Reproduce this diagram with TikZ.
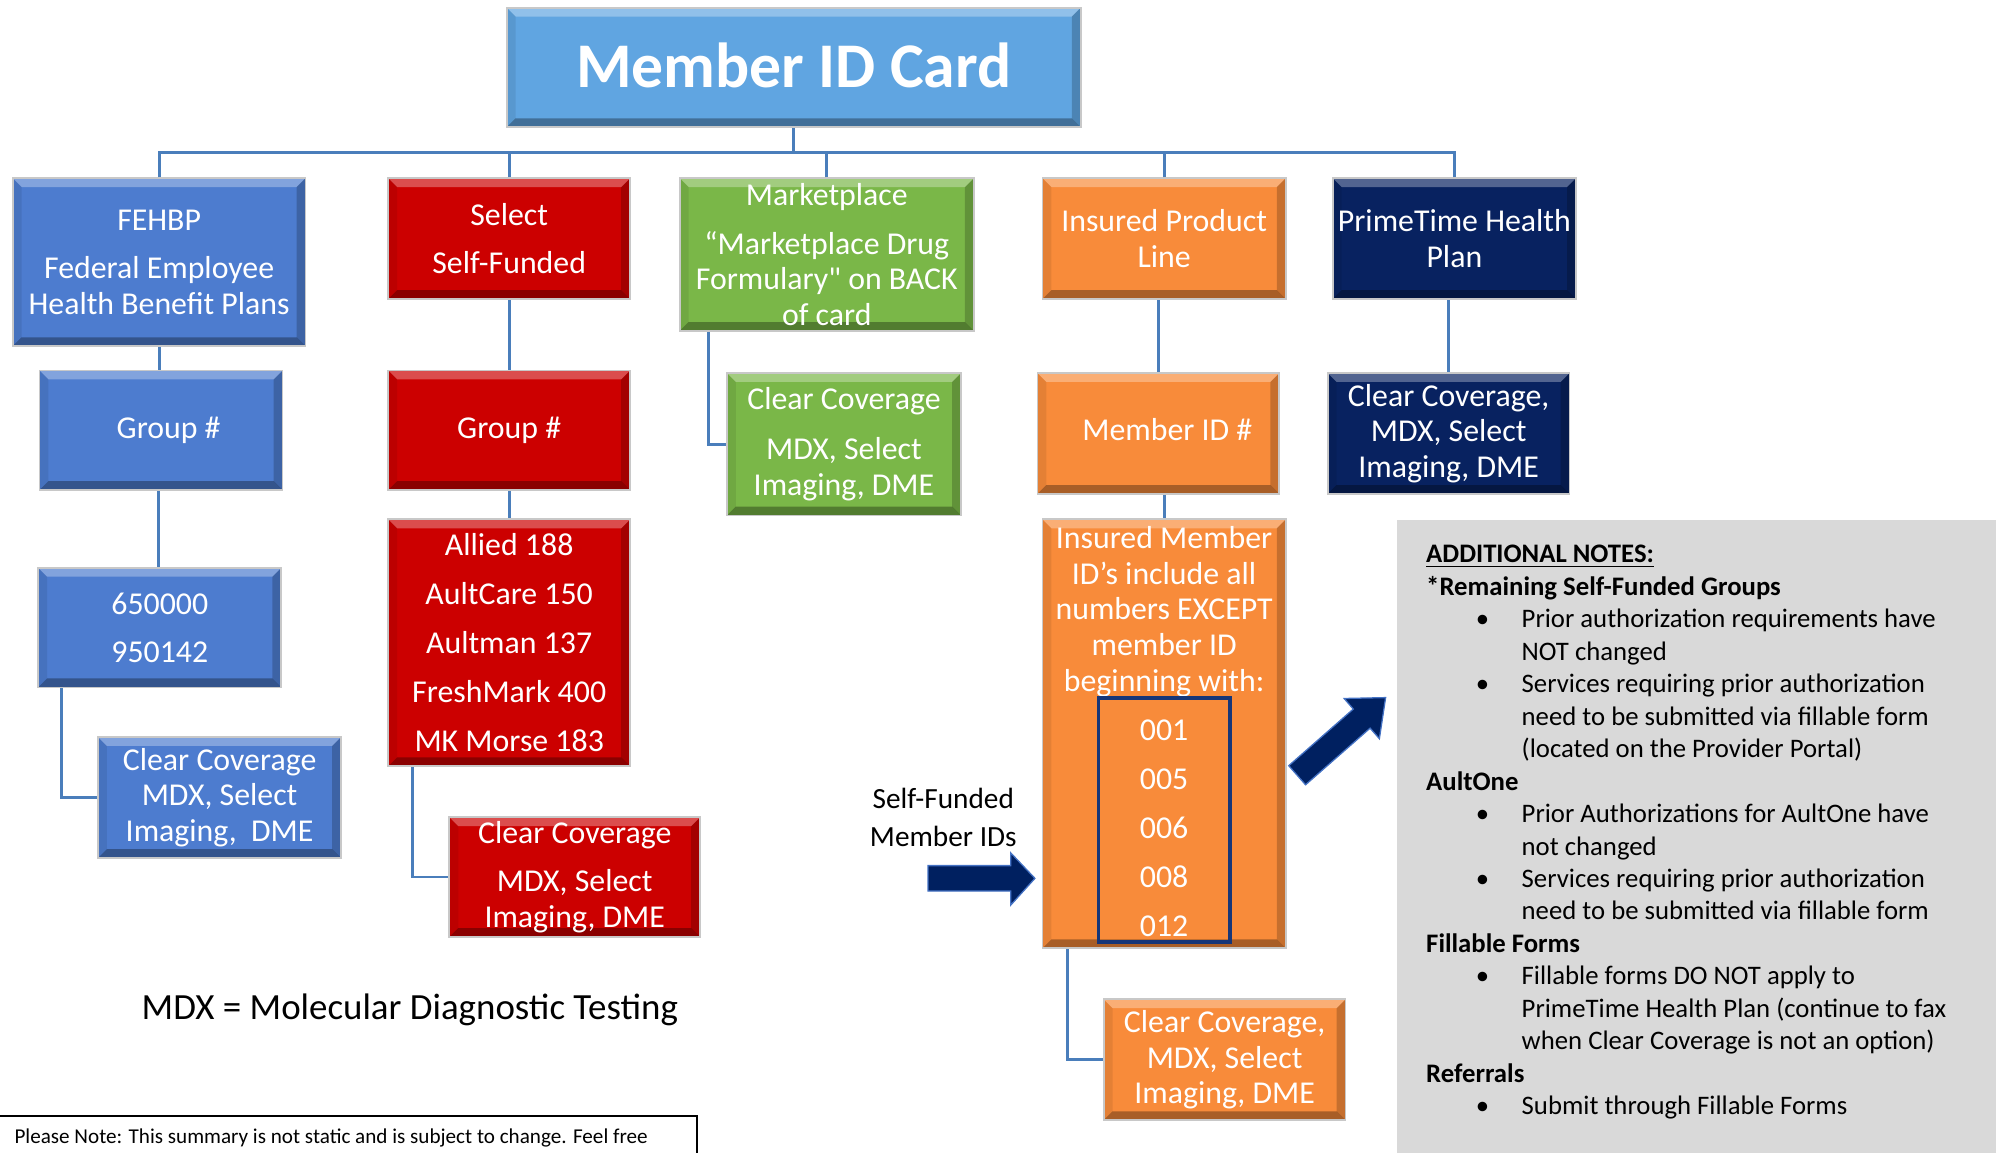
\documentclass[tikz,border=0pt]{standalone}
\usepackage{fontspec}
\setmainfont{Carlito}
\definecolor{titleblue}{RGB}{96,165,225}
\definecolor{fblue}{RGB}{77,124,207}
\definecolor{sred}{RGB}{204,0,0}
\definecolor{mgreen}{RGB}{122,183,72}
\definecolor{iorange}{RGB}{248,139,58}
\definecolor{pnavy}{RGB}{8,34,96}
\definecolor{conncol}{RGB}{74,126,187}
\definecolor{notegray}{RGB}{217,217,217}
\definecolor{arrownavy}{RGB}{0,32,96}
\definecolor{arrowedge}{RGB}{68,114,196}
\definecolor{innernavy}{RGB}{22,54,120}
\definecolor{boxedge}{RGB}{200,200,200}
\newcommand\boxfont{\fontsize{12.5}{14}\selectfont}
\newcommand\bul{\hspace*{19.5pt}\makebox[18pt][l]{•}}
\newcommand\ind{\hspace*{37.5pt}}
\newcommand\straightq{{\XeTeXglyph\XeTeXcharglyph"22\relax}}
\tikzset{
  bevel/.style={path picture={
    \fill[white,opacity=.30] (path picture bounding box.north west) -- (path picture bounding box.north east)
      -- ([xshift=-3.5pt,yshift=-3.5pt]path picture bounding box.north east) -- ([xshift=3.5pt,yshift=-3.5pt]path picture bounding box.north west) -- cycle;
    \fill[black,opacity=.32] (path picture bounding box.south west) -- (path picture bounding box.south east)
      -- ([xshift=-3.5pt,yshift=3.5pt]path picture bounding box.south east) -- ([xshift=3.5pt,yshift=3.5pt]path picture bounding box.south west) -- cycle;
    \fill[black,opacity=.20] (path picture bounding box.north east) -- (path picture bounding box.south east)
      -- ([xshift=-3.5pt,yshift=3.5pt]path picture bounding box.south east) -- ([xshift=-3.5pt,yshift=-3.5pt]path picture bounding box.north east) -- cycle;
    \fill[black,opacity=.08] (path picture bounding box.north west) -- (path picture bounding box.south west)
      -- ([xshift=3.5pt,yshift=3.5pt]path picture bounding box.south west) -- ([xshift=3.5pt,yshift=-3.5pt]path picture bounding box.north west) -- cycle;
  }},
  box/.style={rectangle, inner sep=0pt, align=center, text=white, draw=boxedge, line width=0.7pt, font=\boxfont, bevel},
  bx/.style 2 args={minimum width=#1*0.5pt, minimum height=#2*0.5pt},
  link/.style={draw=conncol, line width=1.1pt},
  blockarrow/.style={fill=arrownavy, draw=arrowedge, line width=0.5pt, line join=miter},
  plain/.style={inner sep=0pt, align=center}
}
\begin{document}
\begin{tikzpicture}[x=0.5pt,y=-0.5pt]
\useasboundingbox (0,0) rectangle (1568,905);
\clip (0,0) rectangle (1568,905);

% title
\node[box, fill=titleblue, bx={451}{94}, font=\fontsize{25}{30}\selectfont\bfseries] (title) at (623.5,53) {\raisebox{1.5pt}{Member ID Card}};

% row 1
\node[box, fill=fblue, bx={230}{132}] (fehbp) at (125,206) {FEHBP\\[5pt]Federal Employee\\Health Benefit Plans};
\node[box, fill=sred, bx={190}{95}] (select) at (400,187.5) {Select\\[5pt]Self-Funded};
\node[box, fill=mgreen, bx={231}{120}] (market) at (649.5,200) {Marketplace\\[5pt]“Marketplace Drug\\Formulary\straightq{} on BACK\\of card};
\node[box, fill=iorange, bx={191}{95}] (insured) at (914.5,187.5) {Insured Product\\Line};
\node[box, fill=pnavy, bx={191}{95}] (prime) at (1142.5,187.5) {PrimeTime Health\\Plan};

% row 2
\node[box, fill=fblue, bx={191}{94}] (fgroup) at (126.5,338) {\hspace*{6pt}\raisebox{1pt}{Group \#}};
\node[box, fill=sred, bx={190}{94}] (sgroup) at (400,338) {Group \#};
\node[box, fill=mgreen, bx={184}{112}] (mcc) at (663,349) {\raisebox{1.5pt}{Clear Coverage}\\[4pt]MDX, Select\\Imaging, DME};
\node[box, fill=iorange, bx={190}{95}] (memid) at (910,340.5) {\hspace*{7pt}\raisebox{3pt}{Member ID \#}};
\node[box, fill=pnavy, bx={190}{95}] (pcc) at (1138,340.5) {Clear Coverage,\\MDX, Select\\Imaging, DME};

% row 3
\node[box, fill=fblue, bx={191}{94}] (fnums) at (125.5,493) {650000\\[5pt]950142};
\node[box, fill=sred, bx={190}{194}] (sgroups) at (400,505) {Allied 188\\[5.25pt]AultCare 150\\[5.25pt]Aultman 137\\[5.25pt]FreshMark 400\\[5.25pt]MK Morse 183};
\node[box, fill=iorange, bx={191}{337}] (imember) at (914.5,576.5) {};
\node[plain, font=\boxfont, text=white] (imtext) at (914.5,480.5) {Insured Member\\ID’s include all\\numbers EXCEPT\\member ID\\beginning with:};
\node[draw=innernavy, line width=1.5pt, minimum width=51.5pt, minimum height=96pt, inner sep=0pt] (prefix) at (914.5,644) {};
\node[plain, font=\boxfont, text=white] (prefixes) at (914.5,650.5) {001\\[5.25pt]005\\[5.25pt]006\\[5.25pt]008\\[5.25pt]012};

% row 4
\node[box, fill=fblue, bx={191}{95}] (fcc) at (172.5,626.5) {Clear Coverage\\MDX, Select\\Imaging,\ \ DME};
\node[box, fill=sred, bx={197}{94}] (scc) at (451.5,689) {Clear Coverage\\[5pt]MDX, Select\\Imaging, DME};
\node[box, fill=iorange, bx={190}{95}] (icc) at (962,832.5) {Clear Coverage,\\MDX, Select\\Imaging, DME};

% connectors
\coordinate (bus) at (623.5,120);
\draw[link] (title.south) -- (bus);
\foreach \n in {fehbp,select,market,insured,prime} \draw[link] (\n.north) |- (bus);
\draw[link] (fehbp.south) -- (fehbp.south |- fgroup.north);
\draw[link] (select.south) -- (sgroup.north);
\draw[link] (memid.north |- insured.south) -- (memid.north);
\draw[link] (pcc.north |- prime.south) -- (pcc.north);
\draw[link] (fnums.north -| fgroup.south) ++(-2,0) -- ([xshift=-1pt]fgroup.south);
\draw[link] (sgroup.south) -- (sgroups.north);
\draw[link] (memid.south -| imember.north) -- (imember.north);
\draw[link] ([xshift=9.5pt]fnums.south west) |- (fcc.west);
\draw[link] ([xshift=10pt]sgroups.south west) |- (scc.west);
\draw[link] ([xshift=11.5pt]market.south west) |- (mcc.west);
\draw[link] ([xshift=10pt]imember.south west) |- (icc.west);

% block arrows
\draw[blockarrow] (729,680) -- (794,680) -- (794,670) -- (813,690) -- (794,711) -- (794,700) -- (729,700) -- cycle;
\draw[blockarrow] (1025.6,616.5) -- (1076.3,572.0) -- (1083.6,580.3) -- (1088.5,548) -- (1055.9,548.7) -- (1063.1,557.0) -- (1012.4,601.5) -- cycle;
\node[plain, font=\fontsize{11.5}{15}\selectfont] (sfids) at (741,642) {Self-Funded\\Member IDs};

% notes
\node[fill=notegray, minimum width=235.5pt, minimum height=248.5pt, anchor=north west, inner sep=0pt] (notesbg) at (1097,408) {};
\node[anchor=north west, inner sep=0pt, align=left, font=\fontsize{10.5}{12.75}\selectfont] (notes) at (1120,428) {%
\underline{\textbf{ADDITIONAL NOTES:}}\\
\textbf{*Remaining Self-Funded Groups}\\
\bul Prior authorization requirements have\\
\ind NOT changed\\
\bul Services requiring prior authorization\\
\ind need to be submitted via fillable form\\
\ind (located on the Provider Portal)\\
\textbf{AultOne}\\
\bul Prior Authorizations for AultOne have\\
\ind not changed\\
\bul Services requiring prior authorization\\
\ind need to be submitted via fillable form\\
\textbf{Fillable Forms}\\
\bul Fillable forms DO NOT apply to\\
\ind PrimeTime Health Plan (continue to fax\\
\ind when Clear Coverage is not an option)\\
\textbf{Referrals}\\
\bul Submit through Fillable Forms};

% footer
\node[plain, font=\fontsize{14.5}{17}\selectfont] (mdx) at (322,793) {MDX = Molecular Diagnostic Testing};
\node[draw=black, line width=0.6pt, anchor=north west, minimum width=274.5pt, minimum height=30pt, inner sep=0pt] (pnotebox) at (-2,876) {};
\node[anchor=west, inner sep=0pt, font=\fontsize{8.3}{10}\selectfont] (pnote) at (11,894) {Please Note: This summary is not static and is subject to change. Feel free};
\end{tikzpicture}
\end{document}
